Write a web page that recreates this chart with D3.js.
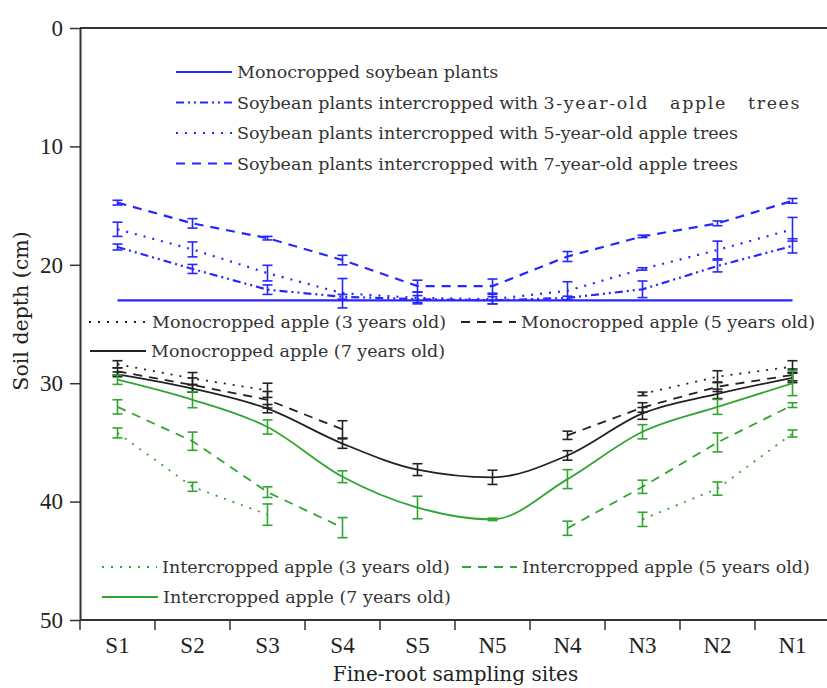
<!DOCTYPE html>
<html>
<head>
<meta charset="utf-8">
<script src="https://cdn.jsdelivr.net/npm/d3@7/dist/d3.min.js"></script>
<style>
  body { margin: 0; background: #fff; }
  svg { display: block; }
  .tick text { font-family: "Liberation Serif", serif; fill: #222; }
  .leg text { font-family: "DejaVu Serif", serif; fill: #333; }
</style>
</head>
<body>
<div id="chart"></div>
<script>
// sampling sites along the transect
var sites = ['S1', 'S2', 'S3', 'S4', 'S5', 'N5', 'N4', 'N3', 'N2', 'N1'];
var depthTicks = [0, 10, 20, 30, 40, 50];

// soybean plants (blue)
var soyMono = [23, 23, 23, 23, 23, 23, 23, 23, 23, 23];
var soy3 = [18.5, 20.35, 22.1, 22.7, 22.9, 23.0, 22.8, 22.07, 20.1, 18.4];
var soy3Err = [0.25, 0.38, 0.4, 0.2, 0.3, 0.3, 0.15, 0.7, 0.5, 0.6];
var soy5 = [17.0, 18.7, 20.7, 22.4, 22.8, 22.9, 22.2, 20.35, 18.75, 17.0];
var soy5Err = [0.6, 0.63, 0.66, 1.24, 0.5, 0.4, 0.77, 0.1, 0.75, 1.0];
var soy7 = [14.75, 16.5, 17.75, 19.6, 21.8, 21.8, 19.3, 17.6, 16.5, 14.6];
var soy7Err = [0.2, 0.4, 0.15, 0.4, 0.5, 0.6, 0.42, 0.1, 0.2, 0.2];

// monocropped apple (black)
var mono3 = [28.4, 29.6, 30.6, null, null, null, null, 30.9, 29.45, 28.6];
var mono3Err = [0.3, 0.5, 0.6, null, null, null, null, 0.15, 0.5, 0.5];
var mono5 = [29.0, 30.15, 31.4, 33.9, null, null, 34.4, 32.05, 30.3, 29.3];
var mono5Err = [0.3, 0.6, 0.7, 0.73, null, null, 0.35, 0.4, 0.4, 0.5];
var mono7 = [29.25, 30.45, 32.15, 35.1, 37.3, 37.95, 36.1, 32.55, 30.9, 29.55];
var mono7Err = [0.2, 0.3, 0.35, 0.4, 0.5, 0.6, 0.4, 0.5, 0.4, 0.4];

// intercropped apple (green)
var int3 = [34.2, 38.75, 41.1, null, null, null, null, 41.5, 38.9, 34.25];
var int3Err = [0.42, 0.38, 0.9, null, null, null, null, 0.6, 0.56, 0.3];
var int5 = [32.0, 34.9, 39.2, 42.2, null, null, 42.25, 38.75, 35.0, 31.85];
var int5Err = [0.6, 0.77, 0.45, 0.85, null, null, 0.6, 0.56, 0.8, 0.2];
var int7 = [29.7, 31.4, 33.7, 37.9, 40.5, 41.5, 38.1, 34.1, 32.0, 30.0];
var int7Err = [0.4, 0.67, 0.6, 0.5, 0.95, 0.1, 0.8, 0.6, 0.63, 1.05];

var BLUE = '#2626ff', BLACK = '#222', GREEN = '#30a530';
var DASH = '9,7', DOT = '2,7', DASHDOT = '8,4,2,4,2,4';

var series = [
  { name: 'Monocropped soybean plants', values: soyMono, err: null, color: BLUE, dash: null, width: 2.2, curve: d3.curveLinear },
  { name: 'Soybean plants intercropped with 3-year-old apple trees', values: soy3, err: soy3Err, color: BLUE, dash: DASHDOT, width: 2.2, curve: d3.curveLinear },
  { name: 'Soybean plants intercropped with 5-year-old apple trees', values: soy5, err: soy5Err, color: BLUE, dash: DOT, width: 2.2, curve: d3.curveLinear },
  { name: 'Soybean plants intercropped with 7-year-old apple trees', values: soy7, err: soy7Err, color: BLUE, dash: DASH, width: 2.2, curve: d3.curveLinear },
  { name: 'Monocropped apple (3 years old)', values: mono3, err: mono3Err, color: BLACK, dash: DOT, width: 1.8, curve: d3.curveLinear },
  { name: 'Monocropped apple (5 years old)', values: mono5, err: mono5Err, color: BLACK, dash: DASH, width: 1.8, curve: d3.curveLinear },
  { name: 'Monocropped apple (7 years old)', values: mono7, err: mono7Err, color: BLACK, dash: null, width: 1.8, curve: d3.curveMonotoneX },
  { name: 'Intercropped apple (3 years old)', values: int3, err: int3Err, color: GREEN, dash: DOT, width: 1.8, curve: d3.curveLinear },
  { name: 'Intercropped apple (5 years old)', values: int5, err: int5Err, color: GREEN, dash: DASH, width: 1.8, curve: d3.curveLinear },
  { name: 'Intercropped apple (7 years old)', values: int7, err: int7Err, color: GREEN, dash: null, width: 1.8, curve: d3.curveMonotoneX }
];

var svgWidth = 827, svgHeight = 688,
    margin = { top: 28, left: 80, bottom: 68 },
    plotBottom = svgHeight - margin.bottom;

var x = d3.scaleBand().domain(sites).range([margin.left, margin.left + 75 * sites.length]);
var y = d3.scaleLinear().domain([0, 50]).range([margin.top, plotBottom]);
var cx = function (s) { return x(s) + x.bandwidth() / 2; };

var svg = d3.select('#chart').append('svg')
    .attr('width', svgWidth)
    .attr('height', svgHeight);

// frame: top line and bottom line
svg.append('line')
    .attr('x1', margin.left).attr('x2', svgWidth)
    .attr('y1', y(0)).attr('y2', y(0))
    .attr('stroke', '#333').attr('stroke-width', 2);
svg.append('line')
    .attr('x1', margin.left).attr('x2', svgWidth)
    .attr('y1', y(50)).attr('y2', y(50))
    .attr('stroke', '#333').attr('stroke-width', 2);

// y axis
var yAxis = d3.axisLeft(y).tickValues(depthTicks).tickSize(10).tickSizeOuter(0).tickPadding(7);
var yG = svg.append('g')
    .attr('transform', 'translate(' + margin.left + ',0)')
    .call(yAxis);
yG.select('.domain').attr('stroke', '#333').attr('stroke-width', 2);
yG.selectAll('.tick line').attr('stroke', '#333').attr('stroke-width', 1.5);
yG.selectAll('.tick text').style('font-size', '23px');

// x axis: labels centred in each band, ticks on band edges
var xAxis = d3.axisBottom(x).tickSize(0).tickPadding(12);
var xG = svg.append('g')
    .attr('transform', 'translate(0,' + plotBottom + ')')
    .call(xAxis);
xG.select('.domain').remove();
xG.selectAll('.tick text').style('font-size', '23px').attr('dy', '0.9em');
svg.append('g').selectAll('line')
    .data(sites)
    .enter().append('line')
    .attr('x1', function (s) { return x(s); })
    .attr('x2', function (s) { return x(s); })
    .attr('y1', plotBottom).attr('y2', plotBottom + 10)
    .attr('stroke', '#333').attr('stroke-width', 1.5);

// axis titles
svg.append('text')
    .attr('transform', 'translate(28,' + ((y(0) + y(50)) / 2 - 13) + ') rotate(-90)')
    .attr('text-anchor', 'middle')
    .style('font-family', '"DejaVu Serif", serif')
    .style('font-size', '20.5px')
    .attr('fill', '#222')
    .text('Soil depth (cm)');
svg.append('text')
    .attr('x', (margin.left + svgWidth) / 2 + 2)
    .attr('y', 681)
    .attr('text-anchor', 'middle')
    .style('font-family', '"DejaVu Serif", serif')
    .style('font-size', '20px')
    .attr('fill', '#222')
    .text('Fine-root sampling sites');

// lines and error bars
series.forEach(function (s) {
  var pts = sites.map(function (site, i) {
    return { site: site, v: s.values[i], e: s.err ? s.err[i] : null };
  });
  var line = d3.line()
      .defined(function (d) { return d.v != null; })
      .curve(s.curve)
      .x(function (d) { return cx(d.site); })
      .y(function (d) { return y(d.v); });
  svg.append('path')
      .datum(pts)
      .attr('d', line)
      .attr('fill', 'none')
      .attr('stroke', s.color)
      .attr('stroke-width', s.width)
      .attr('stroke-dasharray', s.dash);

  if (!s.err) return;
  var eb = svg.append('g')
      .attr('stroke', s.color)
      .attr('stroke-width', 1.6)
      .selectAll('g')
      .data(pts.filter(function (d) { return d.v != null; }))
      .enter().append('g');
  eb.append('line')
      .attr('x1', function (d) { return cx(d.site); })
      .attr('x2', function (d) { return cx(d.site); })
      .attr('y1', function (d) { return y(d.v - d.e); })
      .attr('y2', function (d) { return y(d.v + d.e); });
  [-1, 1].forEach(function (sign) {
    eb.append('line')
        .attr('x1', function (d) { return cx(d.site) - 5; })
        .attr('x2', function (d) { return cx(d.site) + 5; })
        .attr('y1', function (d) { return y(d.v + sign * d.e); })
        .attr('y2', function (d) { return y(d.v + sign * d.e); });
  });
});

// legends
var legendItems = [
  { idx: 0, x: 176, y: 72, len: 56 },
  { idx: 1, x: 176, y: 102.5, len: 56, wide: true },
  { idx: 2, x: 176, y: 133, len: 56 },
  { idx: 3, x: 176, y: 163.5, len: 56 },
  { idx: 4, x: 89, y: 322, len: 58 },
  { idx: 5, x: 461, y: 322, len: 55 },
  { idx: 6, x: 90, y: 351, len: 56 },
  { idx: 7, x: 102, y: 567, len: 55 },
  { idx: 8, x: 462, y: 567, len: 55 },
  { idx: 9, x: 102, y: 597, len: 56 }
];
var leg = svg.append('g').attr('class', 'leg');
var item = leg.selectAll('g')
    .data(legendItems)
    .enter().append('g')
    .attr('transform', function (d) { return 'translate(' + d.x + ',' + d.y + ')'; });
item.append('line')
    .attr('x1', 0)
    .attr('x2', function (d) { return d.len; })
    .attr('stroke', function (d) { return series[d.idx].color; })
    .attr('stroke-width', function (d) { return series[d.idx].width; })
    .attr('stroke-dasharray', function (d) { return series[d.idx].dash; });
var labels = item.append('text')
    .attr('x', function (d) { return d.len + 5; })
    .attr('dy', '0.36em')
    .style('font-size', '17.5px');
labels.each(function (d) {
  var t = d3.select(this), name = series[d.idx].name;
  if (!d.wide) { t.text(name); return; }
  // this entry is set looser in the original figure after "with"
  var cut = name.indexOf('with ') + 5;
  t.append('tspan').text(name.slice(0, cut));
  t.append('tspan').style('letter-spacing', '1.6px').style('word-spacing', '14px').text(name.slice(cut));
});
</script>
</body>
</html>
